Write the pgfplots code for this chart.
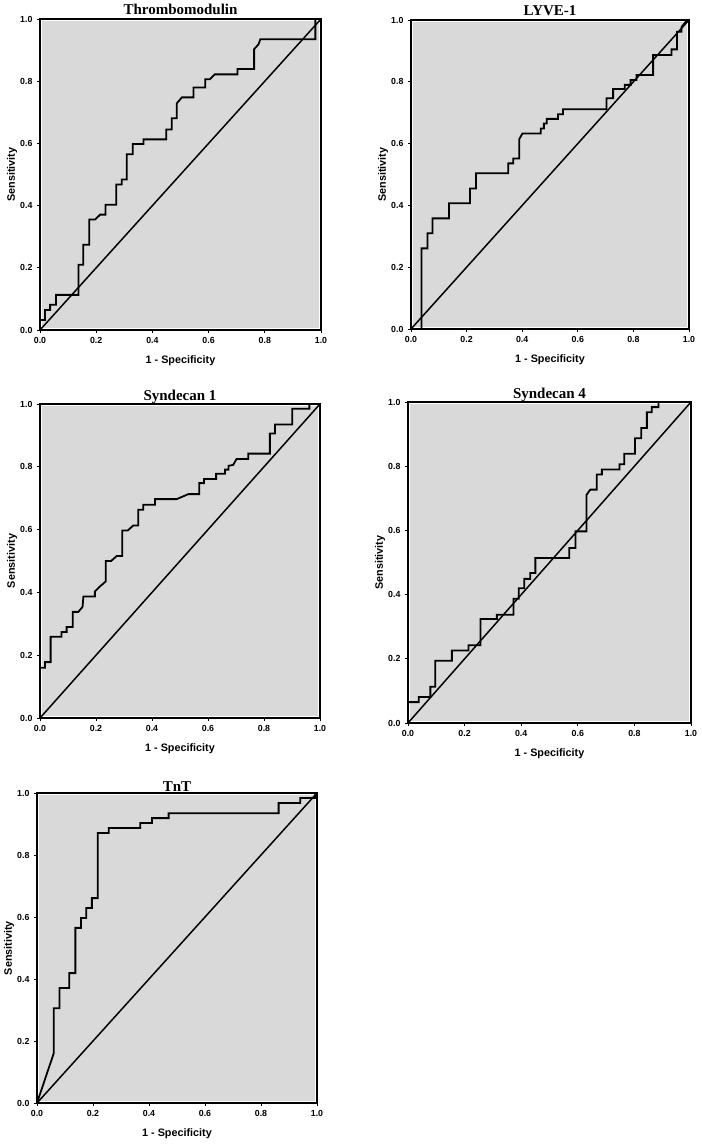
\documentclass[border=0pt]{standalone}
\usepackage{fontspec}
\setmainfont{Liberation Sans}
\newfontfamily\titlefont{Liberation Serif}
\usepackage{pgfplots}
\pgfplotsset{compat=1.18}
\definecolor{bgray}{RGB}{217,217,217}
\pgfplotsset{
  every axis title shift=0pt,
  roc/.style={
    scale only axis,
    anchor=south west,
    xmin=0, xmax=1, ymin=0, ymax=1,
    axis background/.style={fill=bgray, draw=white, line width=3.4pt},
    axis line style={line width=1.8pt, black},
    xtick={0,0.2,0.4,0.6,0.8,1}, ytick={0,0.2,0.4,0.6,0.8,1},
    xticklabels={0.0,0.2,0.4,0.6,0.8,1.0},
    yticklabels={0.0,0.2,0.4,0.6,0.8,1.0},
    tick align=outside, xtick pos=bottom, ytick pos=left,
    major tick length=3pt,
    tick style={line width=0.9pt, black},
    ticklabel style={font=\fontsize{8.8}{9}\selectfont\bfseries},
    xticklabel style={yshift=-1pt},
    yticklabel style={xshift=-1pt},
    xlabel={1 - Specificity}, ylabel={Sensitivity},
    label style={font=\fontsize{10.8}{12}\selectfont\bfseries},
    x label style={at={([yshift=-31pt]axis description cs:0.5,0)}, anchor=center},
    y label style={at={([xshift=-28pt]axis description cs:0,0.5)}, anchor=center},
    title style={font=\titlefont\fontsize{15}{16}\selectfont\bfseries, at={([yshift=4pt]axis description cs:0.5,1)}, anchor=base},
    clip=false,
  },
  roccurve/.style={black, line width=1.8pt, line join=miter, no marks},
  diag/.style={black, line width=1.5pt, no marks},
}
\begin{document}
\begin{tikzpicture}
\useasboundingbox (0pt,0pt) rectangle (701pt,-1147pt);

% Thrombomodulin
\begin{axis}[roc, at={(40pt,-330pt)}, width=281pt, height=311pt, title={Thrombomodulin}]
\addplot[roccurve] coordinates {
(0,0) (0,0.032) (0.018,0.032) (0.018,0.064) (0.036,0.064) (0.036,0.081) (0.057,0.081) (0.057,0.113) (0.137,0.113) (0.137,0.210) (0.154,0.210) (0.154,0.274) (0.175,0.274) (0.175,0.355) (0.196,0.355) (0.214,0.371) (0.233,0.371) (0.233,0.403) (0.271,0.403) (0.271,0.468) (0.291,0.468) (0.291,0.484) (0.309,0.484) (0.309,0.565) (0.330,0.565) (0.330,0.598) (0.368,0.598) (0.368,0.613) (0.449,0.613) (0.449,0.645) (0.469,0.645) (0.469,0.681) (0.487,0.681) (0.487,0.729) (0.505,0.748) (0.546,0.748) (0.546,0.780) (0.588,0.780) (0.588,0.806) (0.604,0.806) (0.622,0.822) (0.703,0.822) (0.703,0.839) (0.762,0.839) (0.762,0.903) (0.778,0.919) (0.784,0.935) (0.980,0.935) (0.980,1) (1,1)
};
\addplot[diag] coordinates {(0,0) (1,1)};
\end{axis}

% LYVE-1
\begin{axis}[roc, at={(411pt,-329pt)}, width=278pt, height=309pt, title={LYVE-1}]
\addplot[roccurve] coordinates {
(0,0) (0.038,0) (0.038,0.261) (0.059,0.261) (0.059,0.310) (0.077,0.310) (0.077,0.358) (0.137,0.358) (0.137,0.407) (0.212,0.407) (0.212,0.455) (0.234,0.455) (0.234,0.504) (0.350,0.504) (0.350,0.536) (0.368,0.536) (0.368,0.552) (0.389,0.552) (0.389,0.614) (0.401,0.633) (0.467,0.633) (0.467,0.649) (0.478,0.649) (0.478,0.665) (0.488,0.665) (0.488,0.680) (0.529,0.680) (0.529,0.695) (0.547,0.695) (0.547,0.711) (0.703,0.711) (0.703,0.747) (0.727,0.747) (0.727,0.777) (0.769,0.777) (0.769,0.790) (0.790,0.790) (0.790,0.806) (0.811,0.806) (0.811,0.822) (0.871,0.822) (0.871,0.887) (0.937,0.887) (0.937,0.905) (0.957,0.905) (0.957,0.962) (0.973,0.962) (0.973,0.977) (0.993,1) (1,1)
};
\addplot[diag] coordinates {(0,0) (1,1)};
\end{axis}

% Syndecan 1
\begin{axis}[roc, at={(40pt,-718pt)}, width=280pt, height=314pt, title={Syndecan 1}]
\addplot[roccurve] coordinates {
(0,0) (0,0.160) (0.018,0.160) (0.018,0.178) (0.038,0.178) (0.038,0.259) (0.077,0.259) (0.077,0.274) (0.095,0.274) (0.095,0.290) (0.117,0.290) (0.117,0.338) (0.137,0.338) (0.152,0.354) (0.155,0.387) (0.196,0.387) (0.196,0.403) (0.214,0.419) (0.235,0.435) (0.235,0.500) (0.254,0.500) (0.274,0.516) (0.294,0.516) (0.294,0.597) (0.313,0.597) (0.333,0.613) (0.351,0.613) (0.351,0.663) (0.369,0.663) (0.369,0.679) (0.411,0.679) (0.411,0.697) (0.488,0.697) (0.530,0.713) (0.569,0.713) (0.569,0.748) (0.586,0.748) (0.586,0.761) (0.629,0.761) (0.629,0.778) (0.661,0.778) (0.661,0.791) (0.673,0.791) (0.673,0.803) (0.690,0.806) (0.702,0.825) (0.744,0.825) (0.744,0.842) (0.821,0.842) (0.821,0.906) (0.839,0.906) (0.839,0.935) (0.901,0.935) (0.901,0.985) (0.962,0.985) (0.962,1) (1,1)
};
\addplot[diag] coordinates {(0,0) (1,1)};
\end{axis}

% Syndecan 4
\begin{axis}[roc, at={(408pt,-723pt)}, width=283pt, height=321pt, title={Syndecan 4}]
\addplot[roccurve] coordinates {
(0,0) (0,0.065) (0.038,0.065) (0.038,0.081) (0.079,0.081) (0.079,0.113) (0.096,0.113) (0.096,0.194) (0.155,0.194) (0.155,0.226) (0.214,0.226) (0.214,0.242) (0.256,0.242) (0.256,0.324) (0.314,0.324) (0.314,0.337) (0.373,0.337) (0.373,0.387) (0.391,0.387) (0.391,0.420) (0.411,0.420) (0.411,0.449) (0.432,0.449) (0.432,0.467) (0.450,0.467) (0.450,0.514) (0.570,0.514) (0.570,0.545) (0.592,0.545) (0.592,0.597) (0.631,0.597) (0.631,0.711) (0.644,0.727) (0.667,0.727) (0.667,0.774) (0.685,0.774) (0.685,0.790) (0.747,0.790) (0.747,0.806) (0.764,0.806) (0.764,0.839) (0.802,0.839) (0.802,0.887) (0.824,0.887) (0.824,0.919) (0.844,0.919) (0.844,0.968) (0.861,0.968) (0.861,0.984) (0.885,0.984) (0.885,1) (1,1)
};
\addplot[diag] coordinates {(0,0) (1,1)};
\end{axis}

% TnT
\begin{axis}[roc, at={(37pt,-1103pt)}, width=280pt, height=310pt, title={TnT}, title style={at={([yshift=2pt]axis description cs:0.5,1)}}]
\addplot[roccurve] coordinates {
(0,0) (0.060,0.161) (0.060,0.306) (0.080,0.306) (0.080,0.371) (0.115,0.371) (0.115,0.419) (0.137,0.419) (0.137,0.565) (0.157,0.565) (0.157,0.597) (0.176,0.597) (0.176,0.629) (0.196,0.629) (0.196,0.661) (0.217,0.661) (0.217,0.871) (0.256,0.871) (0.256,0.887) (0.369,0.887) (0.369,0.903) (0.411,0.903) (0.411,0.919) (0.470,0.919) (0.470,0.935) (0.863,0.935) (0.863,0.968) (0.940,0.968) (0.940,0.984) (0.994,0.984) (0.994,1) (1,1)
};
\addplot[diag] coordinates {(0,0) (1,1)};
\end{axis}
\end{tikzpicture}
\end{document}
